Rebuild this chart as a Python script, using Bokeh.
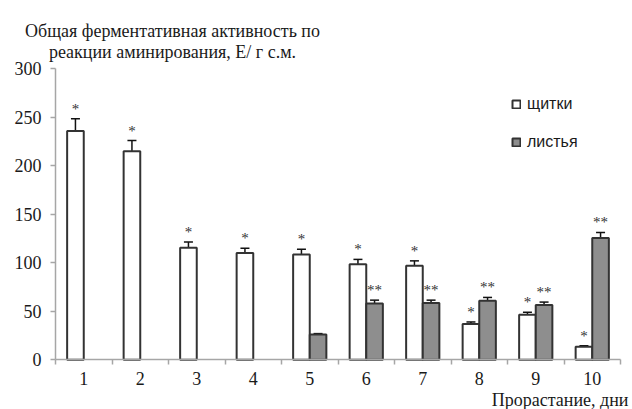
from bokeh.plotting import figure
from bokeh.models import (Range1d, FixedTicker, ColumnDataSource, Whisker, TeeHead,
                          Legend, LegendItem, Label, LabelSet)
from bokeh.embed import file_html
from bokeh.resources import INLINE

# ---- data ----
days = [1, 2, 3, 4, 5, 6, 7, 8, 9, 10]
day_labels = ["1", "2", "3", "4", "5", "6", "7", "8", "9", "10"]
shield = [236, 215, 115.5, 110, 108.5, 98.5, 97, 37, 46.5, 13.5]
shield_err = [12.5, 11, 6, 5, 5.5, 5, 5, 2, 2.5, 1]
shield_sig = ["*", "*", "*", "*", "*", "*", "*", "*", "*", "*"]
leaf = [None, None, None, None, 26, 58, 58.5, 61, 56.5, 125.5]
leaf_err = [None, None, None, None, 1, 3.5, 3, 3.3, 3, 5.8]
leaf_sig = ["", "", "", "", "", "**", "**", "**", "**", "**"]
y_ticks = [0, 50, 100, 150, 200, 250, 300]
title_lines = ["Общая ферментативная активность по", "реакции аминирования, Е/ г с.м."]
x_title = "Прорастание, дни"
series_names = ["щитки", "листья"]

SERIF = "Liberation Serif"
SANS = "Liberation Sans"
AXIS_C = "#a6a6a6"
EDGE_C = "#333333"
TXT_C = "#1a1a1a"
BAR_W = 0.294

W, H = 632, 409
X0PX, Y0PX = 55, 359.3        # pixel position of (0.5, 0)
XPX = 56.5                    # px per category
YPX = 0.97                    # px per unit

x_range = Range1d(0.5 - X0PX / XPX, 0.5 + (W - X0PX) / XPX)
y_range = Range1d(-(H - Y0PX) / YPX, Y0PX / YPX)

p = figure(width=W, height=H, output_backend="svg", toolbar_location=None,
           x_range=x_range, y_range=y_range)
p.min_border = 0
p.outline_line_color = None
p.xgrid.visible = False
p.ygrid.visible = False
p.background_fill_color = "white"
p.border_fill_color = "white"

s_src = ColumnDataSource(dict(
    x=[d - BAR_W / 2 for d in days], top=shield,
    upper=[v + e for v, e in zip(shield, shield_err)],
    lower=[v - e for v, e in zip(shield, shield_err)],
    sig=shield_sig))
r1 = p.vbar(x="x", top="top", width=BAR_W, bottom=0, source=s_src,
            fill_color="white", line_color=EDGE_C, line_width=2)

idx = [i for i, v in enumerate(leaf) if v is not None]
l_src = ColumnDataSource(dict(
    x=[days[i] + BAR_W / 2 for i in idx], top=[leaf[i] for i in idx],
    upper=[leaf[i] + leaf_err[i] for i in idx],
    lower=[leaf[i] - leaf_err[i] for i in idx],
    sig=[leaf_sig[i] for i in idx]))
r2 = p.vbar(x="x", top="top", width=BAR_W, bottom=0, source=l_src,
            fill_color="#8e8e8e", line_color=EDGE_C, line_width=2)

for src in (s_src, l_src):
    w = Whisker(source=src, base="x", upper="upper", lower="lower",
                line_color="#111111", line_width=1.5,
                upper_head=TeeHead(size=9, line_color="#111111", line_width=1.5),
                lower_head=TeeHead(size=9, line_color="#111111", line_width=1.5))
    p.add_layout(w)
    p.add_layout(LabelSet(x="x", y="upper", text="sig", source=src, text_font=SERIF,
                          text_font_size="15px", text_align="center",
                          text_baseline="alphabetic", y_offset=5, text_color="#333333"))

# axes fixed at the data origin
xa = p.xaxis[0]
xa.fixed_location = 0
xa.bounds = (0.5, 10.5)
xa.ticker = FixedTicker(ticks=days, minor_ticks=[d - 0.5 for d in days] + [10.5])
xa.major_label_overrides = {d: l for d, l in zip(days, day_labels)}
xa.major_tick_out = 0
xa.major_tick_in = 0
xa.minor_tick_out = 5
xa.minor_tick_in = 0
xa.minor_tick_line_color = AXIS_C
xa.minor_tick_line_width = 1.5
xa.axis_line_color = AXIS_C
xa.axis_line_width = 1.5
xa.major_label_text_font = SERIF
xa.major_label_text_font_size = "18px"
xa.major_label_text_color = TXT_C
xa.major_label_standoff = 7

ya = p.yaxis[0]
ya.fixed_location = 0.5
ya.bounds = (0, 300)
ya.ticker = FixedTicker(ticks=y_ticks, minor_ticks=[])
ya.major_tick_out = 5
ya.major_tick_in = 0
ya.major_tick_line_color = AXIS_C
ya.major_tick_line_width = 1.5
ya.axis_line_color = AXIS_C
ya.axis_line_width = 1.5
ya.major_label_text_font = SERIF
ya.major_label_text_font_size = "18px"
ya.major_label_text_color = TXT_C
ya.major_label_standoff = 9

# titles (in data space, inside the full-canvas frame)
tx = 0.5 + (172 - X0PX) / XPX
for line, basepx in zip(title_lines, (30, 51)):
    p.add_layout(Label(x=tx, y=(Y0PX - basepx) / YPX, text=line, text_font=SERIF,
                       text_font_size="18px", text_align="center",
                       text_baseline="alphabetic", text_color=TXT_C))
p.add_layout(Label(x=0.5 + (628 - X0PX) / XPX, y=(Y0PX - 399) / YPX, text=x_title,
                   text_font=SERIF, text_font_size="18px", text_align="right",
                   text_baseline="alphabetic", text_color=TXT_C))

legend = Legend(items=[LegendItem(label=series_names[0], renderers=[r1]),
                       LegendItem(label=series_names[1], renderers=[r2])],
                location=(511, 258), label_text_font=SANS, label_text_font_size="16px",
                glyph_width=10, glyph_height=10, label_height=14, spacing=20,
                padding=0, margin=0, border_line_color=None, background_fill_alpha=0,
                label_standoff=6, label_text_color=TXT_C)
p.add_layout(legend)

open("out.html", "w").write(file_html(p, INLINE))
